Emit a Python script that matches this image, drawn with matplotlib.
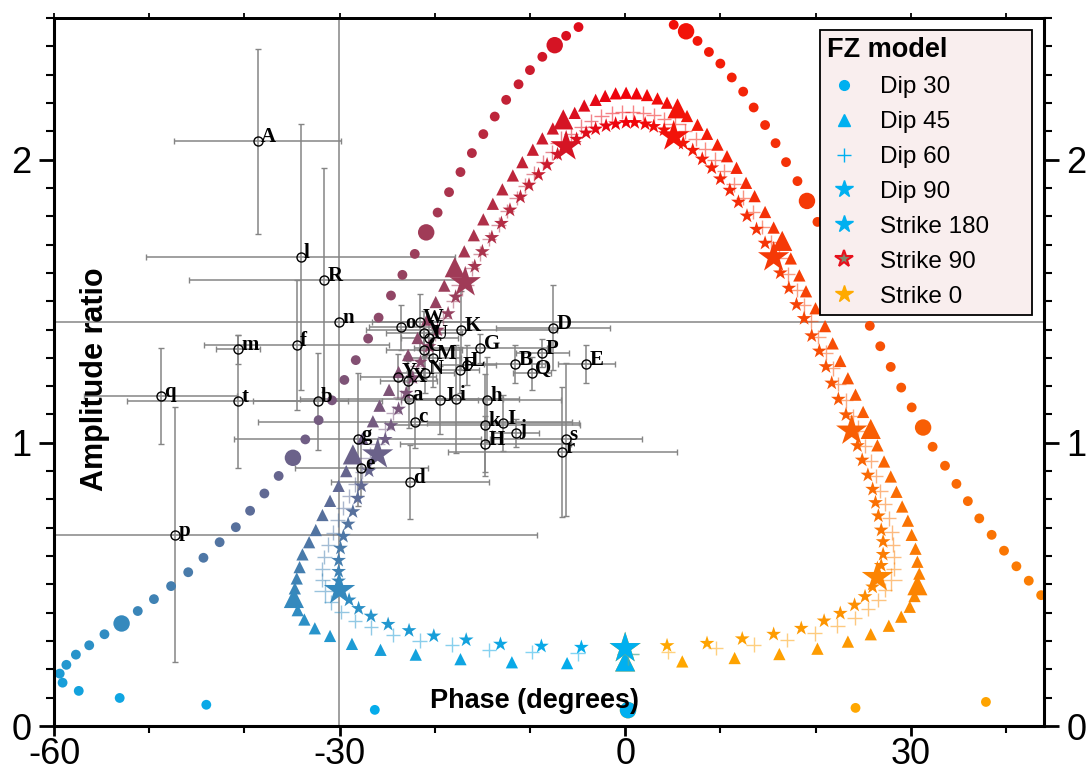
import numpy as np
import matplotlib
matplotlib.use("Agg")
import matplotlib.pyplot as plt
from matplotlib.lines import Line2D

# Model curves: one point per strike step (index 0 = strike 0 ... 99 = strike 180)
DIP90_X = [0.0, 4.4, 8.6, 12.3, 15.6, 18.5, 20.9, 22.6, 24.1, 25.2, 26.0, 26.5, 26.9, 27.1, 27.1, 26.9, 26.6, 26.3, 26.0, 25.5,
           24.9, 24.4, 23.8, 23.2, 22.4, 21.7, 21.1, 20.4, 19.6, 18.8, 18.0, 17.2, 16.3, 15.6, 14.7, 13.8, 12.8, 11.9, 11.0, 10.0,
           9.1, 8.1, 7.1, 6.1, 5.1, 4.1, 3.0, 2.1, 1.0, 0.1, -1.0, -2.0, -3.1, -4.1, -5.1, -6.2, -7.1, -8.2, -9.1, -10.1,
           -11.0, -12.1, -13.0, -14.0, -15.0, -15.8, -16.8, -17.8, -18.6, -19.7, -20.6, -21.5, -22.3, -23.0, -23.8, -24.6, -25.2, -26.0, -26.9, -27.7,
           -28.1, -28.6, -29.1, -29.6, -29.9, -30.1, -30.1, -30.1, -30.0, -29.0, -28.0, -26.7, -24.9, -22.7, -20.1, -16.7, -13.1, -8.8, -4.6, 0.0]
DIP90_Y = [0.275, 0.284, 0.292, 0.308, 0.324, 0.345, 0.371, 0.398, 0.427, 0.457, 0.491, 0.526, 0.567, 0.606, 0.651, 0.692, 0.742, 0.789, 0.836, 0.886,
           0.939, 0.990, 1.043, 1.099, 1.154, 1.211, 1.269, 1.324, 1.378, 1.439, 1.488, 1.546, 1.600, 1.655, 1.705, 1.754, 1.801, 1.850, 1.892, 1.932,
           1.971, 2.002, 2.033, 2.058, 2.082, 2.105, 2.117, 2.126, 2.131, 2.131, 2.126, 2.119, 2.108, 2.094, 2.072, 2.047, 2.018, 1.982, 1.947, 1.910,
           1.868, 1.822, 1.775, 1.725, 1.675, 1.623, 1.567, 1.515, 1.456, 1.398, 1.340, 1.285, 1.230, 1.175, 1.119, 1.061, 1.012, 0.959, 0.901, 0.848,
           0.804, 0.757, 0.713, 0.670, 0.628, 0.585, 0.546, 0.512, 0.480, 0.445, 0.415, 0.388, 0.359, 0.337, 0.318, 0.304, 0.289, 0.282, 0.278, 0.275]

DIP45_X = [0.0, 6.0, 11.5, 16.2, 20.2, 23.4, 25.8, 27.7, 29.0, 29.9, 30.4, 30.7, 30.9, 30.7, 30.5, 30.1, 29.7, 29.1, 28.5, 27.9,
           27.2, 26.5, 25.8, 25.0, 24.2, 23.4, 22.6, 21.8, 21.0, 20.0, 19.0, 18.3, 17.4, 16.5, 15.6, 14.7, 13.6, 12.7, 11.7, 10.7,
           9.7, 8.6, 7.6, 6.5, 5.5, 4.4, 3.4, 2.3, 1.2, 0.1, -1.0, -2.1, -3.1, -4.3, -5.3, -6.5, -7.6, -8.7, -9.7, -10.8,
           -11.8, -12.9, -13.9, -14.9, -15.9, -16.9, -17.9, -19.0, -19.9, -20.8, -21.8, -22.8, -23.8, -24.8, -25.8, -26.5, -27.6, -28.6, -29.3, -30.1,
           -31.0, -31.8, -32.5, -33.2, -33.9, -34.2, -34.5, -34.7, -34.8, -34.4, -33.7, -32.6, -31.0, -28.7, -25.7, -22.0, -17.3, -11.9, -6.1, 0.0]
DIP45_Y = [0.228, 0.228, 0.240, 0.254, 0.273, 0.298, 0.324, 0.354, 0.386, 0.421, 0.459, 0.497, 0.538, 0.580, 0.626, 0.675, 0.725, 0.775, 0.827, 0.881,
           0.934, 0.991, 1.049, 1.109, 1.170, 1.228, 1.289, 1.351, 1.412, 1.475, 1.535, 1.591, 1.651, 1.713, 1.760, 1.815, 1.871, 1.918, 1.971, 2.012,
           2.053, 2.091, 2.123, 2.154, 2.181, 2.201, 2.216, 2.228, 2.234, 2.236, 2.234, 2.225, 2.211, 2.191, 2.165, 2.142, 2.110, 2.075, 2.035, 1.991,
           1.944, 1.895, 1.844, 1.789, 1.733, 1.676, 1.620, 1.555, 1.497, 1.435, 1.370, 1.310, 1.250, 1.187, 1.131, 1.076, 1.015, 0.959, 0.900, 0.848,
           0.795, 0.745, 0.692, 0.649, 0.606, 0.561, 0.521, 0.486, 0.452, 0.409, 0.376, 0.345, 0.318, 0.290, 0.269, 0.252, 0.236, 0.225, 0.222, 0.228]

DIP60_X = [0.3, 4.5, 9.5, 13.5, 17.0, 19.9, 22.3, 24.1, 25.5, 26.6, 27.3, 27.9, 28.2, 28.2, 28.1, 28.0, 27.7, 27.3, 26.8, 26.3,
           25.8, 25.2, 24.5, 23.9, 23.2, 22.4, 21.8, 21.1, 20.3, 19.5, 18.8, 18.0, 17.1, 16.2, 15.3, 14.4, 13.4, 12.4, 11.4, 10.4,
           9.4, 8.4, 7.4, 6.3, 5.2, 4.1, 3.0, 1.9, 0.8, -0.3, -1.4, -2.5, -3.6, -4.6, -5.7, -6.7, -7.7, -8.6, -9.6, -10.5,
           -11.4, -12.4, -13.3, -14.3, -15.2, -16.1, -17.1, -18.1, -19.1, -20.0, -20.9, -21.8, -22.7, -23.6, -24.4, -25.2, -26.0, -26.8, -27.6, -28.4,
           -29.0, -29.6, -30.2, -30.7, -31.2, -31.6, -31.8, -31.8, -31.5, -30.9, -29.8, -28.4, -26.7, -24.4, -21.6, -18.2, -14.3, -9.8, -5.0, 0.3]
DIP60_Y = [0.255, 0.263, 0.275, 0.287, 0.304, 0.327, 0.354, 0.382, 0.413, 0.445, 0.480, 0.517, 0.555, 0.596, 0.640, 0.684, 0.733, 0.784, 0.830, 0.883,
           0.936, 0.988, 1.041, 1.094, 1.150, 1.208, 1.263, 1.318, 1.374, 1.430, 1.485, 1.540, 1.595, 1.652, 1.708, 1.762, 1.815, 1.866, 1.913, 1.958,
           2.000, 2.038, 2.072, 2.100, 2.124, 2.143, 2.156, 2.164, 2.168, 2.168, 2.163, 2.153, 2.137, 2.116, 2.090, 2.060, 2.026, 1.990, 1.950, 1.908,
           1.864, 1.818, 1.770, 1.720, 1.668, 1.616, 1.557, 1.500, 1.442, 1.385, 1.328, 1.272, 1.216, 1.160, 1.105, 1.050, 0.997, 0.945, 0.898, 0.853,
           0.812, 0.770, 0.727, 0.683, 0.640, 0.597, 0.555, 0.515, 0.475, 0.437, 0.402, 0.371, 0.348, 0.322, 0.301, 0.287, 0.269, 0.261, 0.257, 0.255]

# Dip 30 leaves the frame in two places; only the visible steps are listed
DIP30_IDX = [0, 1, 2] + list(range(12, 46)) + list(range(53, 100))
DIP30_X = [0.3, 24.2, 37.9,
           43.7, 42.4, 41.1, 39.8, 38.5, 37.2, 36.0, 34.8, 33.6, 32.3, 31.3, 30.1, 29.0, 27.9, 26.8, 25.7, 24.6,
           23.5, 22.4, 21.3, 20.2, 19.1, 18.1, 16.9, 15.8, 14.7, 13.5, 12.4, 11.2, 10.0, 8.8, 7.6, 6.4, 5.1,
           -4.9, -6.2, -7.4, -8.7, -10.0, -11.2, -12.5, -13.7, -14.9, -16.1, -17.3, -18.5, -19.7, -20.9, -22.1, -23.4, -24.6,
           -25.9, -27.0, -28.3, -29.5, -30.8, -32.2, -33.6, -34.9, -36.4, -37.9, -39.4, -40.9, -42.6, -44.3, -45.9, -47.7,
           -49.5, -51.2, -52.9, -54.7, -56.3, -57.7, -58.7, -59.4, -59.1, -57.4, -53.1, -44.0, -26.3, 0.3]
DIP30_Y = [0.056, 0.064, 0.085,
           0.462, 0.513, 0.564, 0.619, 0.675, 0.733, 0.794, 0.855, 0.919, 0.986, 1.054, 1.125, 1.195, 1.268, 1.341, 1.413, 1.485,
           1.558, 1.630, 1.705, 1.780, 1.854, 1.924, 1.991, 2.058, 2.122, 2.184, 2.240, 2.290, 2.339, 2.380, 2.419, 2.453, 2.476,
           2.468, 2.437, 2.404, 2.363, 2.316, 2.266, 2.211, 2.152, 2.090, 2.023, 1.956, 1.885, 1.813, 1.743, 1.667, 1.593, 1.520,
           1.442, 1.368, 1.292, 1.222, 1.150, 1.080, 1.012, 0.947, 0.883, 0.821, 0.760, 0.702, 0.649, 0.594, 0.543, 0.494,
           0.448, 0.406, 0.362, 0.324, 0.285, 0.252, 0.216, 0.185, 0.153, 0.124, 0.099, 0.075, 0.057, 0.056]

# Observations: label, phase, amplitude ratio, phase error, amplitude error
OBS_LABEL = ["A", "l", "R", "n", "f", "m", "q", "t", "b", "p", "g", "e", "d", "c", "a", "J", "i", "h", "k", "I",
             "j", "H", "s", "r", "W", "V", "U", "o", "C", "M", "F", "L", "Y", "X", "N", "G", "P", "B", "Q", "E", "D", "K"]
OBS_X = [-38.6, -34.1, -31.6, -30.1, -34.5, -40.7, -48.8, -40.7, -32.3, -47.3, -28.1, -27.7, -22.6, -22.1, -22.7, -19.5, -17.8, -14.5, -14.7, -12.8,
         -11.5, -14.7, -6.2, -6.6, -21.6, -21.1, -20.6, -23.5, -21.1, -20.2, -17.4, -16.6, -23.9, -22.8, -21.0, -15.2, -8.7, -11.6, -9.8, -4.1, -7.6, -17.2]
OBS_Y = [2.064, 1.657, 1.576, 1.427, 1.345, 1.330, 1.164, 1.146, 1.146, 0.675, 1.012, 0.912, 0.862, 1.075, 1.154, 1.152, 1.154, 1.152, 1.064, 1.070,
         1.035, 0.996, 1.012, 0.967, 1.426, 1.386, 1.370, 1.408, 1.327, 1.298, 1.257, 1.275, 1.234, 1.219, 1.245, 1.333, 1.316, 1.278, 1.246, 1.278, 1.406, 1.397]
OBS_XERR = [8.8, 16.2, 14.2, 80, 9.7, 2.3, 8.0, 11.6, 6.8, 38, 13, 7, 8.3, 16.5, 11.5, 4, 5, 7.8, 10, 8,
            2.5, 9, 8, 12, 5, 4, 3, 3.4, 4, 3, 2, 3, 4, 3, 3, 7, 2.8, 3.2, 2, 3, 6, 10]
OBS_YERR = [0.325, 0.47, 0.395, 1.6, 0.229, 0.05, 0.17, 0.234, 0.17, 0.45, 0.234, 0.1, 0.13, 0.094, 0.1, 0.12, 0.19, 0.15, 0.18, 0.1,
            0.05, 0.1, 0.27, 0.23, 0.1, 0.08, 0.06, 0.08, 0.1, 0.1, 0.08, 0.07, 0.08, 0.07, 0.07, 0.05, 0.05, 0.067, 0.058, 0.067, 0.15, 0.14]

ORANGE = np.array([255, 170, 0]) / 255
RED = np.array([240, 0, 10]) / 255
BLUE = np.array([0, 176, 240]) / 255


def strike_colour(i):
    t = i / 99
    if t <= 0.5:
        u = t / 0.5
        return ORANGE * (1 - u) + RED * u
    u = (t - 0.5) / 0.5
    return RED * (1 - u) + BLUE * u


plt.rcParams["font.family"] = ["Liberation Sans", "DejaVu Sans"]
plt.rcParams["axes.unicode_minus"] = False
fig = plt.figure(figsize=(10.9, 7.82), dpi=100)
ax = fig.add_axes([54 / 1090, 1 - 726 / 782, 990 / 1090, 708 / 782])
ax.set_xlim(-60, 44)
ax.set_ylim(0, 2.5)

# error bars and observed points
ax.errorbar(OBS_X, OBS_Y, xerr=OBS_XERR, yerr=OBS_YERR, fmt="none", ecolor="#858585",
            elinewidth=1.1, capsize=2.5, capthick=1.0, zorder=1)

curves = [
    (DIP30_X, DIP30_Y, DIP30_IDX, "o", 50, 140, dict(linewidths=0)),
    (DIP45_X, DIP45_Y, list(range(100)), "^", 78, 210, dict(linewidths=0)),
    (DIP60_X, DIP60_Y, list(range(100)), "+", 110, 260, dict(linewidths=1.0, alpha=0.5)),
    (DIP90_X, DIP90_Y, list(range(100)), "*", 125, 560, dict(linewidths=0)),
]
for xs, ys, idx, mk, s_small, s_big, kw in curves:
    cols = [strike_colour(i) for i in idx]
    sizes = [s_big if i % 11 == 0 else s_small for i in idx]
    ax.scatter(xs, ys, s=sizes, c=cols, marker=mk, zorder=2, **kw)

ax.plot(OBS_X, OBS_Y, "o", ms=6.5, mfc="none", mec="black", mew=1.0, zorder=4)
for lab, x, y in zip(OBS_LABEL, OBS_X, OBS_Y):
    ax.annotate(lab, (x, y), xytext=(2.5, 3), textcoords="offset points", ha="left", va="center",
                fontsize=15, fontweight="bold", family="Liberation Serif", zorder=5)

# axis labels sit inside the frame
ax.text(0.041, 0.49, "Amplitude ratio", transform=ax.transAxes, rotation=90, ha="center", va="center",
        fontsize=22, fontweight="bold")
ax.text(0.485, 0.036, "Phase (degrees)", transform=ax.transAxes, ha="center", va="center",
        fontsize=19.5, fontweight="bold")

ax.set_xticks([-60, -30, 0, 30])
ax.set_xticks(np.arange(-60, 45, 10), minor=True)
ax.set_yticks([0, 1, 2])
ax.set_yticks(np.arange(0, 2.51, 0.1), minor=True)
ax.tick_params(which="major", direction="out", length=11, width=2, labelsize=26, pad=5,
               left=True, right=True, bottom=True, top=False, labelright=True)
ax.tick_params(axis="x", which="major", length=7, pad=1)
ax.tick_params(which="minor", direction="out", length=6, width=1.5, left=True, right=True, bottom=True, top=False)
ax.tick_params(axis="x", which="minor", length=5)
# short ticks on the top edge, every 10 degrees
top = ax.secondary_xaxis("top")
top.set_xticks(np.arange(-60, 45, 10))
top.tick_params(direction="out", length=3.5, width=1.3, labeltop=False)
top.spines["top"].set_linewidth(2.0)
for side in ["left", "right", "bottom"]:
    ax.spines[side].set_linewidth(2.2)
ax.spines["top"].set_linewidth(2.0)

handles = [
    Line2D([], [], ls="none", marker="o", ms=7, mfc=BLUE, mec=BLUE),
    Line2D([], [], ls="none", marker="^", ms=9, mfc=BLUE, mec=BLUE),
    Line2D([], [], ls="none", marker="+", ms=10, mec=BLUE, mew=1.0),
    Line2D([], [], ls="none", marker="*", ms=13, mfc=BLUE, mec=BLUE),
    Line2D([], [], ls="none", marker="*", ms=13, mfc=BLUE, mec=BLUE),
    Line2D([], [], ls="none", marker="*", ms=13, mfc="#7d8a6e", mec="#e8101c", mew=1.5),
    Line2D([], [], ls="none", marker="*", ms=13, mfc=ORANGE, mec=ORANGE),
]
labels = ["Dip 30", "Dip 45", "Dip 60", "Dip 90", "Strike 180", "Strike 90", "Strike 0"]
leg = ax.legend(handles, labels, loc="upper left", bbox_to_anchor=(766 / 990, 0.5, 212 / 990, 0.483),
                mode="expand", fontsize=17.5,
                title="FZ model", title_fontproperties={"weight": "bold", "size": 19.5},
                frameon=True, fancybox=False, framealpha=1, facecolor="#f9eeee", edgecolor="black",
                borderpad=0.3, labelspacing=0.53, handlelength=1.4, handletextpad=0.75, borderaxespad=0)
leg.get_frame().set_linewidth(1.3)
leg._legend_box.align = "left"
leg.set_zorder(10)

fig.savefig("out.png", dpi=100)
